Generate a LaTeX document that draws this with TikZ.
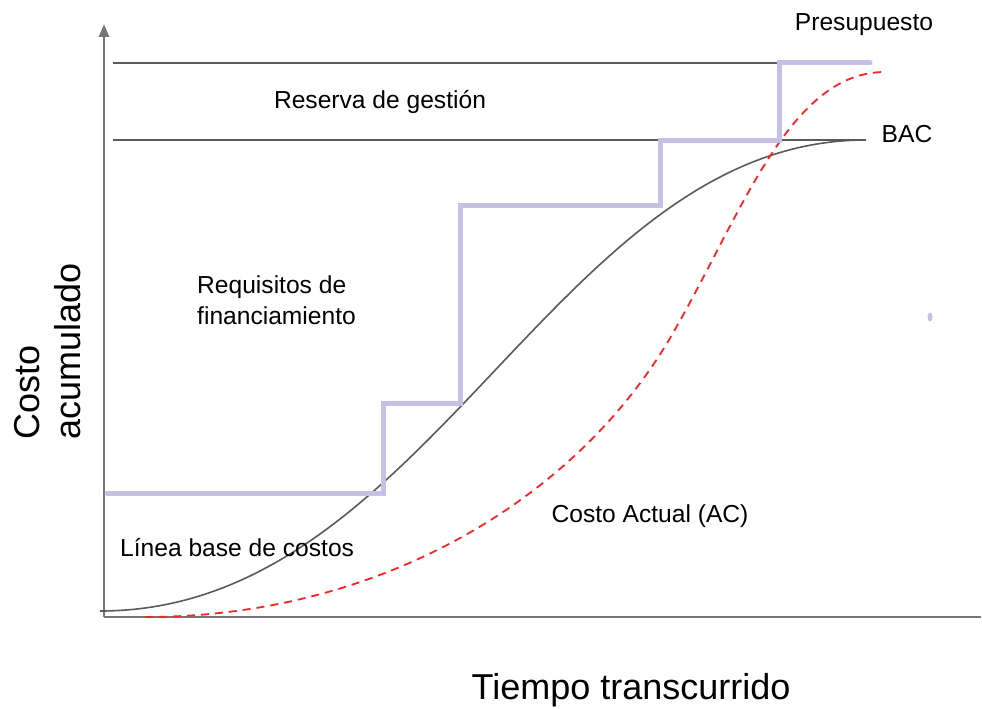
\documentclass[tikz,border=0pt]{standalone}
\usepackage{fontspec}
\setmainfont{Liberation Sans}
\usetikzlibrary{arrows.meta,shapes.geometric}
\definecolor{axisgray}{HTML}{757575}
\definecolor{linegray}{HTML}{5A5A5A}
\definecolor{lav}{HTML}{C5C0E6}
\definecolor{redd}{HTML}{FF2222}
\tikzset{
  lbl/.style={font=\fontsize{24.6}{30}\selectfont, inner sep=0pt},
  big/.style={font=\fontsize{36}{44}\selectfont, inner sep=0pt},
  axis/.style={draw=axisgray, line width=2.6pt},
  ref/.style={draw=linegray, line width=1.6pt},
  stepline/.style={draw=lav, line width=5pt, line cap=round, line join=miter},
  actual/.style={draw=redd, line width=1.8pt, dash pattern=on 8pt off 6pt},
}
\begin{document}
\begin{tikzpicture}[x=1pt,y=-1pt]
\useasboundingbox (0,0) rectangle (982,709);
% axes
\coordinate (o) at (104,617);
\coordinate (ytop) at (104,24);
\coordinate (xend) at (981,617);
\draw[axis, -{Triangle[length=13pt,width=10pt]}] (o) -- (ytop);
\draw[axis] (o) -- (xend);
% reference lines
\coordinate (p1) at (113,63);
\coordinate (p2) at (862,63);
\coordinate (b1) at (113,140);
\coordinate (b2) at (866,140);
\draw[ref] (p1) -- (p2);
\draw[ref] (b1) -- (b2);
% baseline curve
\coordinate (c0) at (100,611);
\coordinate (c3) at (866,140);
\draw[ref] (c0) .. controls (430,611) and (555,140) .. (c3);
% actual cost
\coordinate (a0) at (145,617);
\coordinate (am) at (673,333);
\coordinate (a3) at (885,72);
\draw[actual] (a0) .. controls (380,617) and (578,499) .. (am) .. controls (743,211) and (790,72) .. (a3);
% funding step
\coordinate (s0) at (107,493);
\coordinate (s9) at (870,63);
\draw[stepline] (s0) -- (383,493) -- (383,403) -- (460,403) -- (460,205) -- (660,205) -- (660,140) -- (779,140) -- (779,63) -- (s9);
% dot
\node[fill=lav, draw=none, ellipse, minimum width=5pt, minimum height=9pt, inner sep=0pt] (dot) at (930,317) {};
% labels
\node[lbl] (pres) at (864,25) {Presupuesto};
\node[lbl] (res) at (380,102) {Reserva de gestión};
\node[lbl] (bac) at (907,134) {BAC};
\node[lbl, anchor=west, align=left, font=\fontsize{24.6}{31}\selectfont] (req) at (197,300) {Requisitos de\\financiamiento};
\node[lbl, anchor=west] (lb) at (120,548) {Línea base de costos};
\node[lbl] (ac) at (650,516) {Costo Actual (AC)};
\node[big, rotate=90, align=left, font=\fontsize{36}{41}\selectfont] (ylab) at (48,351) {Costo\\acumulado};
\node[big] (xlab) at (631,690) {Tiempo transcurrido};
\end{tikzpicture}
\end{document}
